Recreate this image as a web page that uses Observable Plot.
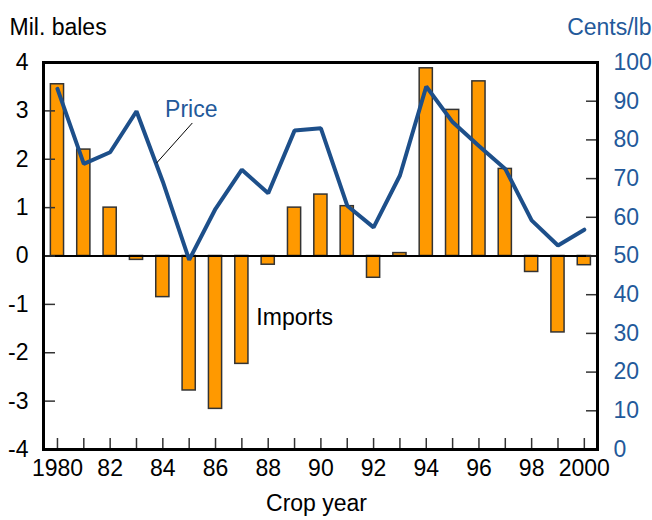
<!DOCTYPE html>
<html>
<head>
<meta charset="utf-8">
<script src="https://cdn.jsdelivr.net/npm/d3@7"></script>
<script src="https://cdn.jsdelivr.net/npm/@observablehq/plot@0.6"></script>
<style>
  body { margin: 0; background: #fff; }
  svg { font-family: "Liberation Sans", Arial, sans-serif; }
</style>
</head>
<body>
<div id="chart"></div>
<script>
const years = d3.range(1980, 2001);
const imports = [3.55, 2.2, 1.0, -0.08, -0.85, -2.78, -3.16, -2.23, -0.18, 1.0, 1.27, 1.03, -0.45, 0.06, 3.88, 3.02, 3.61, 1.8, -0.33, -1.58, -0.19];
const price = [93.2, 73.8, 76.8, 87.4, 69.2, 49.0, 62.2, 72.3, 66.2, 82.4, 83.0, 63.0, 57.4, 70.8, 93.8, 84.6, 78.4, 72.5, 59.2, 52.7, 56.8];
const leftTicks = [-4, -3, -2, -1, 0, 1, 2, 3, 4];
const rightTicks = [0, 10, 20, 30, 40, 50, 60, 70, 80, 90, 100];
const xLabelYears = [1980, 1982, 1984, 1986, 1988, 1990, 1992, 1994, 1996, 1998, 2000];
const xLabels = ["1980", "82", "84", "86", "88", "90", "92", "94", "96", "98", "2000"];

const data = years.map((y, i) => ({year: y, imports: imports[i], price: price[i]}));
const toLeft = p => (p - 50) / 12.5;   // cents/lb -> mil. bales axis
const x0 = 1979.47, x1 = 2000.5;
const blue = "#1d4f8a";
const blueText = "#23599a";
const fs = 23;

const chart = Plot.plot({
  width: 652,
  height: 520,
  marginLeft: 43,
  marginRight: 55,
  marginTop: 62,
  marginBottom: 71,
  style: {fontSize: fs + "px", fontFamily: "Liberation Sans, Arial, sans-serif", color: "#000", background: "#fff"},
  x: {type: "linear", domain: [x0, x1], axis: null},
  y: {domain: [-4, 4], axis: null},
  marks: [
    Plot.rectY(data, {x1: d => d.year - 0.25, x2: d => d.year + 0.25, y1: 0, y2: "imports", fill: "#ff9900", stroke: "#333", strokeWidth: 1.5}),
    Plot.ruleY([0], {stroke: "#000", strokeWidth: 2}),
    Plot.line(data, {x: "year", y: d => toLeft(d.price), stroke: blue, strokeWidth: 4, strokeLinejoin: "miter"}),
    // left axis
    Plot.ruleY(leftTicks, {y: d => d, x1: x0, x2: x0 + 12 / 26.35, stroke: "#333", strokeWidth: 1.5}),
    Plot.axisY(leftTicks, {anchor: "left", label: null, tickSize: 0, tickPadding: 15, fontSize: fs, tickFormat: d => String(d)}),
    // right axis
    Plot.ruleY(rightTicks, {y: d => toLeft(d), x1: x1 - 11 / 26.35, x2: x1, stroke: "#333", strokeWidth: 1.5}),
    Plot.axisY(rightTicks.map(toLeft), {anchor: "right", label: null, tickSize: 0, tickPadding: 16, fontSize: fs, fill: blueText, tickFormat: d => String(Math.round(d * 12.5 + 50))}),
    // x axis
    Plot.ruleX(years, {x: d => d, y1: -4, y2: -4 + 11 / 48.4, stroke: "#333", strokeWidth: 1.5}),
    Plot.axisX(xLabelYears, {anchor: "bottom", label: null, tickSize: 0, tickPadding: 10, fontSize: fs, tickFormat: (d, i) => xLabels[i]}),
    Plot.frame({stroke: "#000", strokeWidth: 3}),
    // annotations
    Plot.text(["Price"], {x: 1985.08, y: 3.02, fill: blueText, fontSize: fs}),
    Plot.link([0], {x1: 1985.12, y1: 2.75, x2: 1983.76, y2: 1.92, stroke: "#000", strokeWidth: 1}),
    Plot.text(["Imports"], {x: 1987.55, y: -1.28, textAnchor: "start", fill: "#000", fontSize: fs}),
    Plot.text(["Mil. bales"], {frameAnchor: "top-left", dx: -34, dy: -44, textAnchor: "start", fill: "#000", fontSize: fs}),
    Plot.text(["Cents/lb"], {frameAnchor: "top-right", dx: 54, dy: -44, textAnchor: "end", fill: blueText, fontSize: fs}),
    Plot.text(["Crop year"], {frameAnchor: "bottom", dx: -4, dy: 61, fill: "#000", fontSize: fs})
  ]
});
document.getElementById("chart").appendChild(chart);
</script>
</body>
</html>
